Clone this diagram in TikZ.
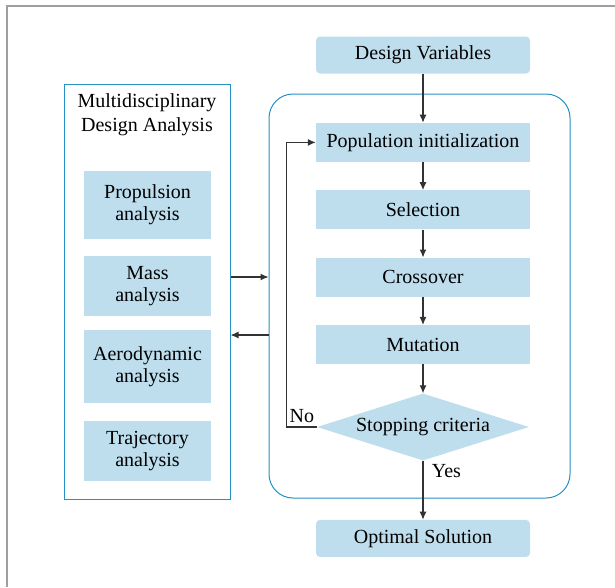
\documentclass[tikz,border=0pt]{standalone}
\usepackage{fontspec}
\setmainfont{Liberation Serif}
\usepackage{tikz}
\usetikzlibrary{positioning}
\usetikzlibrary{shapes.geometric}
\usetikzlibrary{arrows.meta}

\definecolor{boxfill}{RGB}{190,222,238}
\definecolor{frameblue}{RGB}{38,145,196}
\definecolor{linegray}{RGB}{50,50,50}

\begin{document}
\begin{tikzpicture}
		[x=1pt, y=-1pt, node distance=28pt,
		 label text/.style={font=\fontsize{20}{22}\selectfont},
		 stage/.style={rectangle, fill=boxfill, minimum width=214pt, minimum height=39pt, inner sep=0pt, label text},
		 terminal/.style={stage, rounded corners=4pt, minimum height=37pt},
		 decision/.style={diamond, fill=boxfill, shape aspect=3.2, minimum width=212pt, minimum height=67pt, inner sep=0pt, label text},
		 module/.style={rectangle, fill=boxfill, minimum width=127pt, inner sep=0pt, align=center, label text},
		 flow/.style={draw=linegray, line width=1.1pt, -{Latex[length=8pt, width=7pt]}}]
		\useasboundingbox (0,0) rectangle (615,587);
		\draw[gray!75, line width=1.5pt] (7,587) -- (7,6) -- (615,6);

		\node[terminal] (vars) at (423,55) {Design Variables};
		\node[draw=frameblue, line width=1pt, rounded corners=24pt, minimum width=301pt, minimum height=404pt] (ga) at (419.5,296) {};
		\node[stage, below=49pt of vars] (init) {Population initialization};
		\node[stage, below=of init] (select) {Selection};
		\node[stage, below=of select] (cross) {Crossover};
		\node[stage, below=of cross] (mutate) {Mutation};
		\node[decision, below=29pt of mutate] (stop) {Stopping criteria};
		\node[terminal, below=59pt of stop] (optimal) {Optimal Solution};

		\node[draw=frameblue, line width=1pt, minimum width=166pt, minimum height=415pt] (mda) at (147,291.5) {};
		\node[align=center, font=\fontsize{20}{24}\selectfont] (mdatitle) at (147,115) {Multidisciplinary\\Design Analysis};
		\node[module, minimum height=68pt] (prop) at (147.5,205) {Propulsion\\analysis};
		\node[module, minimum height=60pt] (mass) at (147.5,286) {Mass\\analysis};
		\node[module, minimum height=73pt] (aero) at (147.5,366.5) {Aerodynamic\\analysis};
		\node[module, minimum height=60pt] (traj) at (147.5,451) {Trajectory\\analysis};

		\draw[flow] (vars) to (init);
		\draw[flow] (init) to (select);
		\draw[flow] (select) to (cross);
		\draw[flow] (cross) to (mutate);
		\draw[flow] (mutate) to (stop);
		\draw[flow] (stop) to node[pos=0.17, right=5pt, label text] {Yes} (optimal);
		\draw[flow] (stop.west) -- node[above, label text] {No} ++(-30,0) |- (init.west);

		\draw[flow] (mda.east |- 0,277) -- (ga.west |- 0,277);
		\draw[flow] (ga.west |- 0,335) -- (mda.east |- 0,335);
	\end{tikzpicture}
\end{document}
